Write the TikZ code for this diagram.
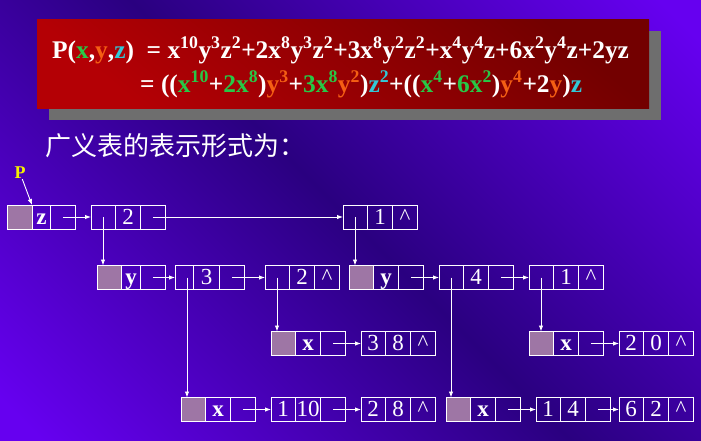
\documentclass[tikz,border=0pt]{standalone}
\usepackage{fontspec}
\setmainfont{Liberation Serif}
\newfontfamily\cjk{Noto Sans CJK SC}
\usetikzlibrary{shapes.multipart,arrows.meta,calc,shadows}

\definecolor{bgbright}{RGB}{102,0,240}
\definecolor{bgdark}{RGB}{42,0,128}
\definecolor{boxdark}{RGB}{115,0,0}
\definecolor{boxred}{RGB}{180,0,5}
\definecolor{shadowgray}{RGB}{110,110,110}
\definecolor{xgreen}{RGB}{40,200,70}
\definecolor{yorange}{RGB}{245,95,20}
\definecolor{zcyan}{RGB}{50,200,215}
\definecolor{headfill}{RGB}{158,118,165}
\definecolor{plabel}{RGB}{245,240,0}

\pgfdeclarehorizontalshading{bgband}{100bp}{color(0bp)=(bgbright); color(17bp)=(bgbright); color(50bp)=(bgdark); color(83bp)=(bgbright); color(100bp)=(bgbright)}

\newcommand\pw[1]{\textsuperscript{#1}}
\newcommand\xg[1]{\textcolor{xgreen}{#1}}
\newcommand\yo[1]{\textcolor{yorange}{#1}}
\newcommand\zc[1]{\textcolor{zcyan}{#1}}
\newcommand\cell[2][24pt]{\makebox[#1]{\rule[-5pt]{0pt}{24pt}#2}}

\begin{document}
\begin{tikzpicture}[
    x=1pt, y=-1pt,
    listnode/.style={rectangle split, rectangle split horizontal, rectangle split parts=3, draw=white, line width=1pt, inner sep=0pt, outer sep=0pt, text=white, font=\fontsize{23}{23}\selectfont},
    headnode/.style={listnode, rectangle split part fill={headfill,none,none}},
    titlebox/.style={minimum width=612pt, minimum height=89pt, top color=boxdark, bottom color=boxred, shading angle=-40, drop shadow={shadow xshift=12pt, shadow yshift=-12pt, fill=shadowgray, opacity=1}},
    formula/.style={inner sep=0pt, text=white, font=\fontsize{25.4}{30}\selectfont\bfseries},
    arrow/.style={-{Latex[length=6pt,width=4.5pt]}, white, line width=0.9pt}
]

% Background
\useasboundingbox (0,0) rectangle (701,440);
\shade[shading=bgband, shading angle=45] (0,0) rectangle (701,440);

% Polynomial
\node[titlebox] (formula) at (343,63.5) {};
\node[formula, anchor=base west] (line1) at (52,58) {P(\xg{x},\yo{y},\zc{z})\ \ = x\pw{10}y\pw{3}z\pw{2}+2x\pw{8}y\pw{3}z\pw{2}+3x\pw{8}y\pw{2}z\pw{2}+x\pw{4}y\pw{4}z+6x\pw{2}y\pw{4}z+2yz};
\node[formula, anchor=base west] (line2) at (140,92) {= ((\xg{x\pw{10}}+\xg{2x\pw{8}})\yo{y\pw{3}}+\xg{3x\pw{8}}\yo{y\pw{2}})\zc{z\pw{2}}+((\xg{x\pw{4}}+\xg{6x\pw{2}})\yo{y\pw{4}}+2\yo{y})\zc{z}};

\node[anchor=west, inner sep=0pt, text=white, font=\cjk\fontsize{26}{30}\selectfont] (caption) at (45,146) {广义表的表示形式为：};

% z level
\node[text=plabel, inner sep=0pt, font=\fontsize{18}{18}\selectfont\bfseries] (plbl) at (20,173) {P};
\node[headnode, anchor=west] (zhead) at (7,217) {\cell[25pt]{}\nodepart{two}\cell[17pt]{\textbf{z}}\nodepart{three}\cell{}};
\node[listnode, anchor=west] (zterm2) at (91,217) {\cell{}\nodepart{two}\cell{2}\nodepart{three}\cell{}};
\node[listnode, anchor=west] (zterm1) at (343,217) {\cell{}\nodepart{two}\cell{1}\nodepart{three}\cell{\textasciicircum}};

% y level
\node[headnode, anchor=west] (yheadA) at (97,277.5) {\cell{}\nodepart{two}\cell[18pt]{\textbf{y}}\nodepart{three}\cell{}};
\node[listnode, anchor=west] (yterm3) at (175,277.5) {\cell[18pt]{}\nodepart{two}\cell[25pt]{3}\nodepart{three}\cell{}};
\node[listnode, anchor=west] (yterm2) at (265,277.5) {\cell{}\nodepart{two}\cell{2}\nodepart{three}\cell{\textasciicircum}};
\node[headnode, anchor=west] (yheadB) at (349,277.5) {\cell{}\nodepart{two}\cell{\textbf{y}}\nodepart{three}\cell{}};
\node[listnode, anchor=west] (yterm4) at (439,277.5) {\cell{}\nodepart{two}\cell{4}\nodepart{three}\cell{}};
\node[listnode, anchor=west] (yterm1) at (529,277.5) {\cell{}\nodepart{two}\cell{1}\nodepart{three}\cell{\textasciicircum}};

% x level
\node[headnode, anchor=west] (xheadA) at (271,343.5) {\cell{}\nodepart{two}\cell{\textbf{x}}\nodepart{three}\cell{}};
\node[listnode, anchor=west] (xtermA) at (361,343.5) {\cell{3}\nodepart{two}\cell{8}\nodepart{three}\cell{\textasciicircum}};
\node[headnode, anchor=west] (xheadB) at (529,343.5) {\cell{}\nodepart{two}\cell{\textbf{x}}\nodepart{three}\cell{}};
\node[listnode, anchor=west] (xtermB) at (619,343.5) {\cell{2}\nodepart{two}\cell{0}\nodepart{three}\cell{\textasciicircum}};

\node[headnode, anchor=west] (xheadC) at (181,409.5) {\cell{}\nodepart{two}\cell{\textbf{x}}\nodepart{three}\cell{}};
\node[listnode, anchor=west] (xtermC) at (271,409.5) {\cell{1}\nodepart{two}\cell{10}\nodepart{three}\cell{}};
\node[listnode, anchor=west] (xtermD) at (361,409.5) {\cell{2}\nodepart{two}\cell{8}\nodepart{three}\cell{\textasciicircum}};
\node[headnode, anchor=west] (xheadD) at (446,409.5) {\cell{}\nodepart{two}\cell{\textbf{x}}\nodepart{three}\cell{}};
\node[listnode, anchor=west] (xtermE) at (536,409.5) {\cell{1}\nodepart{two}\cell{4}\nodepart{three}\cell{}};
\node[listnode, anchor=west] (xtermF) at (619,409.5) {\cell{6}\nodepart{two}\cell{2}\nodepart{three}\cell{\textasciicircum}};

% Links to the next element
\draw[arrow] (plbl) -- ($(zhead.north west)+(25,0)$);
\draw[arrow] ($(zhead.east)+(-12,0)$) -- (zterm2.west);
\draw[arrow] ($(zterm2.east)+(-12,0)$) -- (zterm1.west);
\draw[arrow] ($(yheadA.east)+(-12,0)$) -- (yterm3.west);
\draw[arrow] ($(yterm3.east)+(-12,0)$) -- (yterm2.west);
\draw[arrow] ($(yheadB.east)+(-12,0)$) -- (yterm4.west);
\draw[arrow] ($(yterm4.east)+(-12,0)$) -- (yterm1.west);
\draw[arrow] ($(xheadA.east)+(-12,0)$) -- (xtermA.west);
\draw[arrow] ($(xheadB.east)+(-12,0)$) -- (xtermB.west);
\draw[arrow] ($(xheadC.east)+(-12,0)$) -- (xtermC.west);
\draw[arrow] ($(xtermC.east)+(-12,0)$) -- (xtermD.west);
\draw[arrow] ($(xheadD.east)+(-12,0)$) -- (xtermE.west);
\draw[arrow] ($(xtermE.east)+(-12,0)$) -- (xtermF.west);

% Links down to the sublists
\draw[arrow] ($(zterm2.west)+(12,0)$) coordinate (a) -- (a |- yheadA.north);
\draw[arrow] ($(zterm1.west)+(12,0)$) coordinate (a) -- (a |- yheadB.north);
\draw[arrow] ($(yterm3.west)+(12,0)$) coordinate (a) -- (a |- xheadC.north);
\draw[arrow] ($(yterm2.west)+(12,0)$) coordinate (a) -- (a |- xheadA.north);
\draw[arrow] ($(yterm4.west)+(12,0)$) coordinate (a) -- (a |- xheadD.north);
\draw[arrow] ($(yterm1.west)+(12,0)$) coordinate (a) -- (a |- xheadB.north);

\end{tikzpicture}
\end{document}
